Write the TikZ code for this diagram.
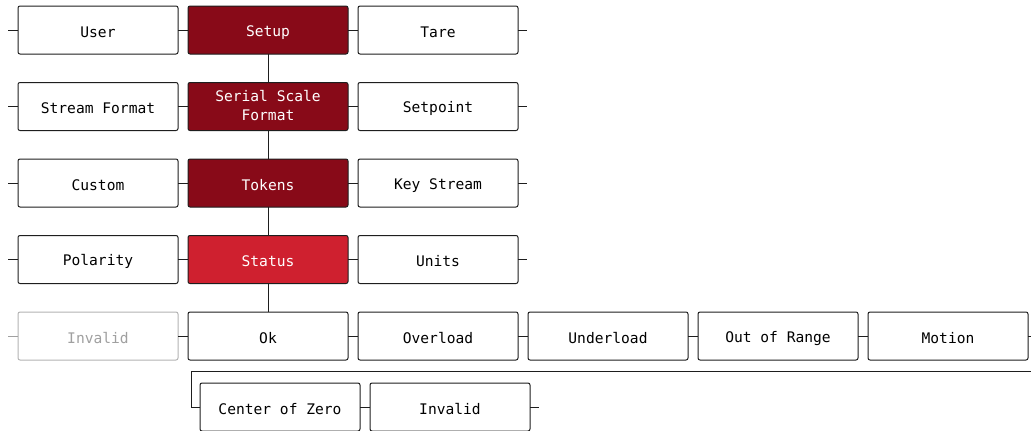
\documentclass[tikz,border=0pt]{standalone}
\usepackage{fontspec}
\setmonofont{DejaVu Sans Mono}
\usetikzlibrary{positioning}
\definecolor{menudark}{HTML}{880A18}
\definecolor{menured}{HTML}{CF202F}
\definecolor{menuline}{HTML}{1E1E1E}
\definecolor{menufade}{HTML}{A0A0A0}
\newcommand{\itemstrut}{\rule[-1.2pt]{0pt}{16.8pt}}
\tikzset{
  item/.style={rounded corners=2pt, draw=menuline, line width=1pt, fill=white,
    minimum width=160pt, minimum height=48pt, inner sep=0pt, outer sep=0pt,
    align=center, font=\ttfamily\fontsize{14.6}{19}\selectfont,
    execute at begin node=\itemstrut, execute at end node=\itemstrut},
  trail/.style={item, fill=menudark, text=white},
  current/.style={item, fill=menured, text=white},
  faded/.style={item, draw=menufade!80, text=menufade},
  link/.style={line width=1pt, draw=menuline},
}

\begin{document}
\begin{tikzpicture}[node distance=28.5pt and 10pt]
\useasboundingbox (0,0) rectangle (1031pt,-431pt);
\node[trail] (setup) at (268pt,-30pt) {Setup};
\node[item, left=of setup] (user) {User};
\node[item, right=of setup] (tare) {Tare};
\node[trail, below=of setup] (serial) {Serial Scale\\Format};
\node[item, left=of serial] (stream) {Stream Format};
\node[item, right=of serial] (setpoint) {Setpoint};
\node[trail, below=of serial] (tokens) {Tokens};
\node[item, left=of tokens] (custom) {Custom};
\node[item, right=of tokens] (keystream) {Key Stream};
\node[current, below=of tokens] (status) {Status};
\node[item, left=of status] (polarity) {Polarity};
\node[item, right=of status] (units) {Units};
\node[item, below=of status] (ok) {Ok};
\node[faded, left=of ok] (invalid) {Invalid};
\node[item, right=of ok] (overload) {Overload};
\node[item, right=of overload] (underload) {Underload};
\node[item, right=of underload] (range) {Out of Range};
\node[item, right=of range] (motion) {Motion};
\node[item, below=23pt of ok, xshift=12pt] (czero) {Center of Zero};
\node[item, right=of czero] (invalidb) {Invalid};
\coordinate (wrap) at (1031pt,-371.5pt);

% column of the selected path
\draw[link] (setup) -- (serial);
\draw[link] (serial) -- (tokens);
\draw[link] (tokens) -- (status);
\draw[link] (status) -- (ok);

% rows
\draw[link] (user.west) -- ++(-10pt,0);
\draw[link] (user) -- (setup);
\draw[link] (setup) -- (tare);
\draw[link] (tare.east) -- ++(9pt,0);
\draw[link] (stream.west) -- ++(-10pt,0);
\draw[link] (stream) -- (serial);
\draw[link] (serial) -- (setpoint);
\draw[link] (setpoint.east) -- ++(9pt,0);
\draw[link] (custom.west) -- ++(-10pt,0);
\draw[link] (custom) -- (tokens);
\draw[link] (tokens) -- (keystream);
\draw[link] (keystream.east) -- ++(9pt,0);
\draw[link] (polarity.west) -- ++(-10pt,0);
\draw[link] (polarity) -- (status);
\draw[link] (status) -- (units);
\draw[link] (units.east) -- ++(9pt,0);
\draw[link, draw=menufade] (invalid.west) -- ++(-10pt,0);
\draw[link] (invalid) -- (ok);
\draw[link] (ok) -- (overload);
\draw[link] (overload) -- (underload);
\draw[link] (underload) -- (range);
\draw[link] (range) -- (motion);
\draw[link] (motion.east) -- ++(9pt,0);
\draw[link] (czero.west) -- ++(-9pt,0) |- (wrap);
\draw[link] (czero) -- (invalidb);
\draw[link] (invalidb.east) -- ++(9pt,0);
\end{tikzpicture}
\end{document}
